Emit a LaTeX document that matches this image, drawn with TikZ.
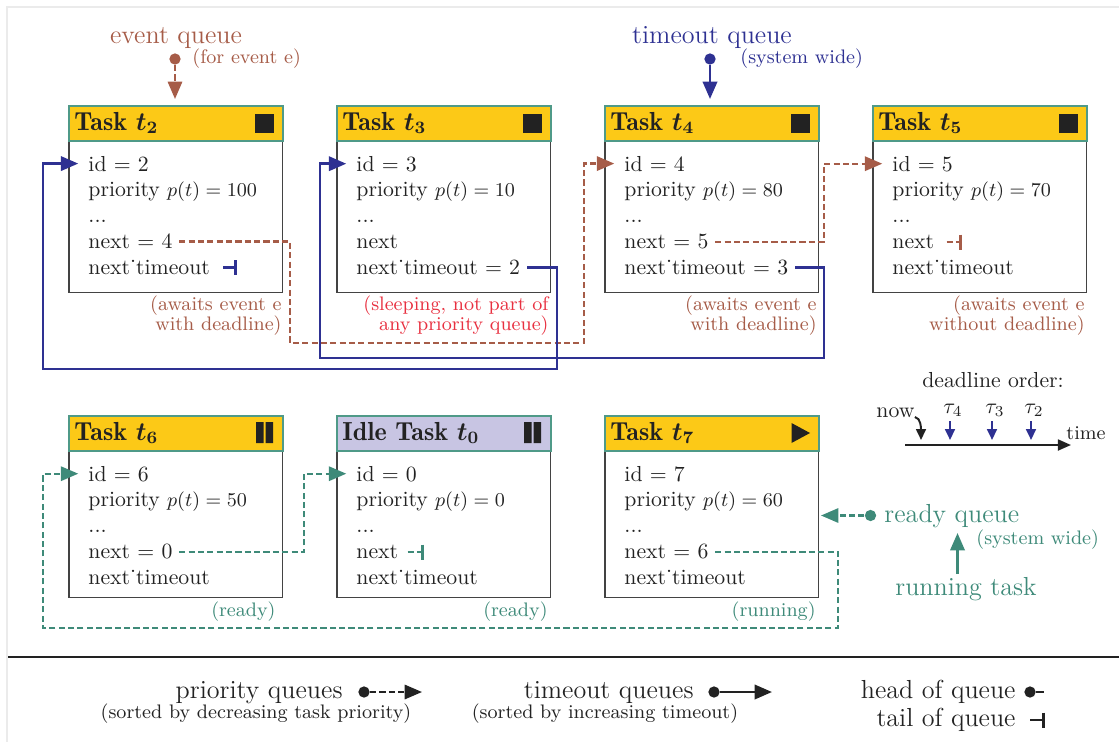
\documentclass[tikz,border=0pt]{standalone}
\usetikzlibrary{arrows.meta}
\definecolor{hdyellow}{HTML}{FCC917}
\definecolor{hdlav}{HTML}{C8C5E3}
\definecolor{hdedge}{HTML}{4F9A88}
\definecolor{ink}{HTML}{222222}
\definecolor{evbrown}{HTML}{A65C48}
\definecolor{tqblue}{HTML}{2E3192}
\definecolor{rqteal}{HTML}{3E8A79}
\definecolor{sleepred}{HTML}{E83040}
\definecolor{framegray}{HTML}{EBEBEB}

% task card: name, x, y (top left), header fill, title, body height
\newcommand\taskcard[6]{%
  \node[body, minimum height=#6] (#1body) at (#2,#3+35) {};
  \node[head, fill=#4] (#1head) at (#2,#3) {};
  \node[ttl] (#1title) at (#2+6,#3+25) {#5};
}
% task fields: name, x, y, id, priority, next suffix, timeout suffix
\newcommand\taskfields[7]{%
  \node[fld] (#1id)   at (#2+13.5,#3+66)    {id = #4};
  \node[fld] (#1prio) at (#2+13.5,#3+91.9)  {priority {\small$p(t) = #5$}};
  \node[fld] (#1etc)  at (#2+13.5,#3+117.8) {...};
  \node[fld] (#1next) at (#2+13.5,#3+143.7) {next#6};
  \node[fld] (#1tmo)  at (#2+13.5,#3+169.6) {next˙timeout#7};
}
% header state icons
\newcommand\stopicon[2]{\fill[ink] (#1+187,#2+8.5) rectangle (#1+206,#2+27.5);}
\newcommand\pauseicon[2]{\fill[ink] (#1+188,#2+7) rectangle (#1+195.5,#2+28)
  (#1+197.5,#2+7) rectangle (#1+205,#2+28);}
\newcommand\playicon[2]{\fill[ink] (#1+187.5,#2+8) -- (#1+206,#2+18) -- (#1+187.5,#2+28) -- cycle;}
% end of a queue: colour, named point of the bar
\newcommand\tailbar[2]{\draw[#1, line width=1.4pt] (#2) ++(0,-7.5) -- ++(0,15);}

\begin{document}
\begin{tikzpicture}[x=0.46pt,y=-0.46pt,
  every node/.style={text=ink},
  head/.style={draw=hdedge, line width=0.9pt, anchor=north west, inner sep=0pt,
    minimum width=98.4pt, minimum height=16.1pt},
  body/.style={draw=ink!85, line width=0.7pt, fill=white, anchor=north west,
    inner sep=0pt, minimum width=98.4pt},
  ttl/.style={anchor=base west, inner sep=0pt, font=\large\fontseries{b}\selectfont\boldmath},
  fld/.style={anchor=base west, inner xsep=3pt, inner ysep=0pt},
  note/.style={anchor=base east, inner sep=0pt, font=\small},
  lbl/.style={inner sep=0pt, font=\large},
  dot/.style={circle, fill, inner sep=0pt, minimum size=5.2pt},
  tip/.style={-{Triangle[length=8pt,width=6.6pt]}},
  smalltip/.style={-{Triangle[length=5pt,width=4.5pt]}},
  pq/.style={line width=1pt, dash pattern=on 2.8pt off 1.5pt},
  tq/.style={line width=1.2pt},
]
\useasboundingbox (0,0) rectangle (1119,742);
\draw[framegray, line width=1pt] (1119,7) -- (7,7) -- (7,742);

% ---- first row: waiting / sleeping tasks
\taskcard{t2}{68}{105}{hdyellow}{Task $t_2$}{69.9pt}
\taskfields{t2}{68}{105}{2}{100}{ = 4}{}
\stopicon{68}{105}
\taskcard{t3}{336}{105}{hdyellow}{Task $t_3$}{69.9pt}
\taskfields{t3}{336}{105}{3}{10}{}{ = 2}
\stopicon{336}{105}
\taskcard{t4}{604}{105}{hdyellow}{Task $t_4$}{69.9pt}
\taskfields{t4}{604}{105}{4}{80}{ = 5}{ = 3}
\stopicon{604}{105}
\taskcard{t5}{872}{105}{hdyellow}{Task $t_5$}{69.9pt}
\taskfields{t5}{872}{105}{5}{70}{}{}
\stopicon{872}{105}

% ---- second row: ready / running tasks
\taskcard{t6}{68}{415}{hdyellow}{Task $t_6$}{67.6pt}
\taskfields{t6}{68}{415}{6}{50}{ = 0}{}
\pauseicon{68}{415}
\taskcard{t0}{336}{415}{hdlav}{Idle Task $t_0$}{67.6pt}
\taskfields{t0}{336}{415}{0}{0}{}{}
\pauseicon{336}{415}
\taskcard{t7}{604}{415}{hdyellow}{Task $t_7$}{67.6pt}
\taskfields{t7}{604}{415}{7}{60}{ = 6}{}
\playicon{604}{415}

% ---- state notes
\node[note, text=evbrown] (t2n1) at (282,310) {(awaits event e};
\node[note, text=evbrown] (t2n2) at (282,330) {with deadline)};
\node[note, text=sleepred] (t3n1) at (549,310) {(sleeping, not part of};
\node[note, text=sleepred] (t3n2) at (549,330) {any priority queue)};
\node[note, text=evbrown] (t4n1) at (817,310) {(awaits event e};
\node[note, text=evbrown] (t4n2) at (817,330) {with deadline)};
\node[note, text=evbrown] (t5n1) at (1085,310) {(awaits event e};
\node[note, text=evbrown] (t5n2) at (1085,330) {without deadline)};
\node[note, text=rqteal] (t6n) at (276,616) {(ready)};
\node[note, text=rqteal] (t0n) at (548,616) {(ready)};
\node[note, text=rqteal] (t7n) at (816,616) {(running)};

% ---- event queue (priority ordered)
\node[lbl, anchor=base, text=evbrown] (eqlabel) at (176,43) {event queue};
\node[note, anchor=base west, text=evbrown] (eqnote) at (192,63) {(for event e)};
\node[dot, evbrown] (eqhead) at (175,59) {};
\coordinate (eqtip) at (175,99);
\draw[pq, evbrown, tip] (eqhead) -- (eqtip);
\draw[pq, evbrown, tip, shorten >=1.5pt] (t2next.east) -| (290,343) -| (584,250) |- (t4id.west);
\draw[pq, evbrown, tip, shorten >=1.5pt] (t4next.east) -| (824,200) |- (t5id.west);
\draw[pq, evbrown] (t5next.east) ++(5.5,0) -- ++(14,0) coordinate (t5tail);
\tailbar{evbrown}{t5tail}

% ---- timeout queue (deadline ordered)
\node[lbl, anchor=base, text=tqblue] (tqlabel) at (712,43) {timeout queue};
\node[note, anchor=base west, text=tqblue] (tqnote) at (740,63) {(system wide)};
\node[dot, tqblue] (tqhead) at (710,59) {};
\coordinate (tqtip) at (710,99);
\draw[tq, tqblue, tip] (tqhead) -- (tqtip);
\draw[tq, tqblue, tip, shorten >=1.5pt] (t4tmo.east) -| (824,358) -| (320,250) |- (t3id.west);
\draw[tq, tqblue, tip, shorten >=1.5pt] (t3tmo.east) -| (557,369) -| (43,250) |- (t2id.west);
\draw[tq, tqblue] (t2tmo.east) ++(6.5,0) -- ++(12,0) coordinate (t2tail);
\tailbar{tqblue}{t2tail}

% ---- ready queue
\draw[pq, rqteal, tip, shorten >=1.5pt] (t7next.east) -| (838,628) -| (43,520) |- (t6id.west);
\draw[pq, rqteal, tip, shorten >=1.5pt] (t6next.east) -| (304,510) |- (t0id.west);
\draw[pq, rqteal] (t0next.east) ++(2.5,0) -- ++(15,0) coordinate (t0tail);
\tailbar{rqteal}{t0tail}
\node[lbl, anchor=base west, text=rqteal] (rqlabel) at (884,522) {ready queue};
\node[note, anchor=base west, text=rqteal] (rqnote) at (976,544) {(system wide)};
\node[dot, rqteal] (rqhead) at (870.5,515.5) {};
\coordinate (rqtip) at (821,515.5);
\draw[pq, rqteal, tip] (rqhead) -- (rqtip);
\node[lbl, anchor=base, text=rqteal] (rtlabel) at (966,595) {running task};
\coordinate (rtfoot) at (957.5,574);
\coordinate (rttip) at (957.5,533);
\draw[tq, rqteal, tip] (rtfoot) -- (rttip);

% ---- deadline order
\node[anchor=base, inner sep=0pt] (dllabel) at (993,387) {deadline order:};
\node[anchor=base west, inner sep=0pt] (nowlabel) at (876,417) {now};
\coordinate (nowtip) at (921,440);
\draw[ink, line width=0.9pt, smalltip] (nowlabel.base east) .. controls +(6,1) and +(0,-12) .. (nowtip);
\node[anchor=base, inner sep=0pt] (tau4) at (953,413) {$\tau_4$};
\node[anchor=base, inner sep=0pt] (tau3) at (995,413) {$\tau_3$};
\node[anchor=base, inner sep=0pt] (tau2) at (1034,413) {$\tau_2$};
\draw[tqblue, line width=1pt, smalltip] (950,421) -- (950,440);
\draw[tqblue, line width=1pt, smalltip] (992,421) -- (992,440);
\draw[tqblue, line width=1pt, smalltip] (1031,421) -- (1031,440);
\coordinate (axstart) at (905,445);
\coordinate (axend) at (1071,445);
\draw[ink, line width=1pt, -{Triangle[length=6pt,width=5pt]}] (axstart) -- (axend);
\node[anchor=base west, inner sep=0pt, font=\small] (timelabel) at (1066,439) {time};

% ---- legend
\draw[ink, line width=1pt] (8,657) -- (1119,657);
\node[lbl, anchor=base east] (lgpq) at (343,698) {priority queues};
\node[note, anchor=base] (lgpqn) at (256,718) {(sorted by decreasing task priority)};
\node[dot, ink] (lgpqdot) at (364,692) {};
\coordinate (lgpqtip) at (422,692);
\draw[pq, ink, tip] (lgpqdot) -- (lgpqtip);
\node[lbl, anchor=base east] (lgtq) at (694,698) {timeout queues};
\node[note, anchor=base] (lgtqn) at (605,718) {(sorted by increasing timeout)};
\node[dot, ink] (lgtqdot) at (714,692) {};
\coordinate (lgtqtip) at (772,692);
\draw[tq, ink, tip] (lgtqdot) -- (lgtqtip);
\node[lbl, anchor=base east] (lghead) at (1016,698) {head of queue};
\node[dot, ink] (lgheaddot) at (1030,692) {};
\coordinate (lgheadend) at (1044,692);
\draw[ink, line width=1.2pt] (lgheaddot) -- (lgheadend);
\node[lbl, anchor=base east] (lgtail) at (1016,726) {tail of queue};
\coordinate (lgtailstart) at (1030,720);
\draw[ink, line width=1.2pt] (lgtailstart) -- ++(13,0) coordinate (lgtailend);
\tailbar{ink}{lgtailend}
\end{tikzpicture}
\end{document}
